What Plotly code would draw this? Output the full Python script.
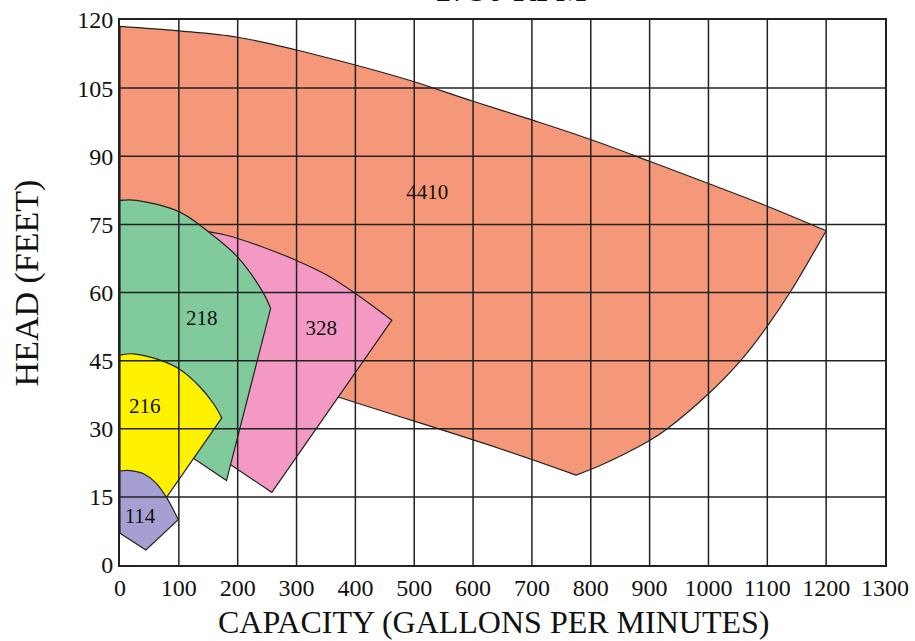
import plotly.graph_objects as go

# Data (capacity GPM, head ft).
# Corner points are listed twice so the smoothed outline keeps sharp corners.
x_4410 = [0, 0, 100, 200, 300, 400, 442, 500, 600, 700, 800, 900, 1000, 1100, 1200, 1200,
          1139, 1100, 1054, 1000, 930, 900, 816, 775, 775, 646, 371, 0, 0, 0]
y_4410 = [118.6, 118.6, 117.6, 116.2, 113.4, 110.1, 108.6, 106.4, 102.1, 98.0, 93.7, 88.9, 84.0, 79.0, 73.6, 73.6,
          60.1, 52.6, 44.9, 37.7, 30.0, 27.4, 21.9, 19.8, 19.8, 25.6, 37.0, 52.8, 52.8, 118.6]

x_328 = [130, 130, 181, 249, 299, 352, 400, 462, 462, 258, 258, 190, 130, 130, 130]
y_328 = [73.8, 73.8, 72.6, 69.7, 67.1, 63.8, 59.8, 53.9, 53.9, 16.0, 16.0, 21.9, 27.0, 27.0, 73.8]

x_218 = [0, 0, 28, 100, 147, 200, 244, 256, 256, 181, 181, 124.8, 124.8, 0, 0, 0]
y_218 = [80.3, 80.3, 80.3, 77.8, 73.7, 67.8, 59.8, 56.5, 56.5, 18.6, 18.6, 23.5, 23.5, 30, 30, 80.3]

x_216 = [0, 0, 23, 68, 100, 136, 159, 173, 173, 79, 79, 0, 0, 0]
y_216 = [46.2, 46.2, 46.5, 45.1, 43.2, 39.2, 35.5, 32.4, 32.4, 14.9, 14.9, 15, 15, 46.2]

x_114 = [0, 0, 17, 40, 60, 79, 99, 99, 44, 44, 0, 0, 0]
y_114 = [20.7, 20.7, 20.8, 20.1, 18.2, 14.9, 10.0, 10.0, 3.3, 3.3, 7.0, 7.0, 20.7]

labels = ["4410", "218", "328", "216", "114"]
label_x = [522, 139, 342, 42, 34]
label_y = [81.8, 54.1, 51.7, 34.7, 10.5]

x_ticks = list(range(0, 1301, 100))
y_ticks = list(range(0, 121, 15))

colors = ["rgb(245,152,122)", "rgb(243,153,196)", "rgb(128,202,156)",
          "rgb(255,242,0)", "rgb(166,160,210)"]

SERIF = "Liberation Serif"

fig = go.Figure()
series = [(x_4410, y_4410), (x_328, y_328), (x_218, y_218), (x_216, y_216), (x_114, y_114)]
for (xs, ys), c in zip(series, colors):
    fig.add_trace(go.Scatter(x=xs, y=ys, mode="lines", fill="toself", fillcolor=c,
                             line=dict(color="#222", width=1.2, shape="spline",
                                       smoothing=1, simplify=False),
                             hoverinfo="skip", showlegend=False))

fig.add_trace(go.Scatter(x=label_x, y=label_y, mode="text", text=labels,
                         textfont=dict(family=SERIF, size=21, color="#111"),
                         showlegend=False, hoverinfo="skip"))

# grid lines drawn above the filled regions
for v in x_ticks[1:-1]:
    fig.add_shape(type="line", xref="x", yref="paper", x0=v, x1=v, y0=0, y1=1,
                  line=dict(color="#222", width=1.5), layer="above")
for v in y_ticks[1:-1]:
    fig.add_shape(type="line", xref="paper", yref="y", x0=0, x1=1, y0=v, y1=v,
                  line=dict(color="#222", width=1.5), layer="above")

fig.add_annotation(text="1750 RPM", x=0.51, xref="paper", y=1, yref="paper",
                   yanchor="bottom", yshift=9, showarrow=False,
                   font=dict(family=SERIF, size=35, color="#111"))
fig.add_annotation(text="CAPACITY (GALLONS PER MINUTES)", x=634, xref="x",
                   y=0, yref="paper", yanchor="middle", yshift=-57, showarrow=False,
                   font=dict(family=SERIF, size=32, color="#111"))
fig.add_annotation(text="HEAD (FEET)", x=0, xref="paper", xanchor="center", xshift=-93,
                   y=62, yref="y", yanchor="middle", textangle=-90, showarrow=False,
                   font=dict(family=SERIF, size=34, color="#111"))

fig.update_layout(
    width=915, height=641,
    margin=dict(l=120, r=30, t=20, b=76, autoexpand=False),
    plot_bgcolor="white", paper_bgcolor="white",
    font=dict(family=SERIF, color="#111"),
    xaxis=dict(range=[0, 1300], tickvals=x_ticks, showgrid=False, zeroline=False,
               showline=True, linecolor="#222", linewidth=2, mirror=True,
               tickfont=dict(size=24), ticks="", ticklen=0, layer="above traces",
               automargin=False),
    yaxis=dict(range=[0, 120], tickvals=y_ticks, showgrid=False, zeroline=False,
               showline=True, linecolor="#222", linewidth=2, mirror=True,
               tickfont=dict(size=24), ticks="", ticklen=0, layer="above traces",
               automargin=False),
)

fig.write_html("out.html", config={"displayModeBar": False},
               post_script="document.body.style.margin='0';")
